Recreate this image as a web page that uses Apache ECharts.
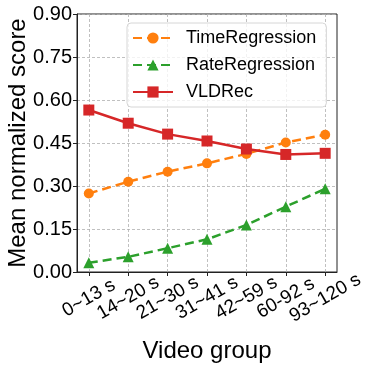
<!DOCTYPE html>
<html>
<head>
<meta charset="utf-8">
<script src="https://cdn.jsdelivr.net/npm/echarts@6/dist/echarts.min.js"></script>
<style>
  html, body { margin: 0; padding: 0; background: #fff; }
  #chart { width: 373px; height: 371px; }
</style>
</head>
<body>
<div id="chart"></div>
<script>
const groups = ['0~13 s', '14~20 s', '21~30 s', '31~41 s', '42~59 s', '60-92 s', '93~120 s']
const timeRegression = [0.274, 0.315, 0.350, 0.379, 0.412, 0.452, 0.479]
const rateRegression = [0.032, 0.053, 0.083, 0.114, 0.164, 0.228, 0.290]
const vldRec = [0.565, 0.519, 0.481, 0.457, 0.429, 0.410, 0.414]

const FONT = 'Liberation Sans, Arial, sans-serif'
const pts = arr => arr.map((v, i) => [i, v])

const chart = echarts.init(document.getElementById('chart'))
chart.setOption({
  animation: false,
  textStyle: { fontFamily: FONT, color: '#000' },
  grid: {
    left: 77, right: 36, top: 14, bottom: 99,
    outerBoundsMode: 'none',
    containLabel: false,
    show: true, borderColor: '#222', borderWidth: 1, backgroundColor: 'transparent',
  },
  legend: {
    orient: 'vertical',
    left: 127,
    top: 23,
    padding: [6, 10, 6, 5],
    itemGap: 9,
    itemWidth: 40,
    itemHeight: 14,
    backgroundColor: 'rgba(255,255,255,0.8)',
    borderColor: '#d6d6d6',
    borderWidth: 1,
    borderRadius: 4,
    textStyle: { fontFamily: FONT, fontSize: 18, color: '#000', padding: [0, 0, 0, 8] },
    data: ['TimeRegression', 'RateRegression', 'VLDRec'],
  },
  xAxis: {
    type: 'value',
    min: -0.3,
    max: 6.3,
    interval: 1,
    name: 'Video group',
    nameLocation: 'middle',
    nameGap: 67,
    nameTextStyle: { fontFamily: FONT, fontSize: 24, color: '#000' },
    axisLine: { show: true, onZero: false, lineStyle: { color: '#222' } },
    axisTick: { show: true, length: 4, lineStyle: { color: '#222' }, customValues: [0, 1, 2, 3, 4, 5, 6] },
    axisLabel: {
      rotate: 30,
      align: 'center',
      verticalAlign: 'middle',
      margin: 26,
      fontFamily: FONT,
      fontSize: 19,
      color: '#000',
      showMinLabel: true,
      showMaxLabel: true,
      hideOverlap: false,
      customValues: [0, 1, 2, 3, 4, 5, 6],
      formatter: v => (Number.isInteger(v) && groups[v]) ? groups[v] : '',
    },
    splitLine: { show: true, lineStyle: { color: '#b0b0b0', type: [3, 2], width: 0.8 } },
  },
  yAxis: {
    type: 'value',
    min: 0,
    max: 0.9,
    interval: 0.15,
    name: 'Mean normalized score',
    nameLocation: 'middle',
    nameGap: 47,
    nameMoveOverlap: false,
    nameTextStyle: { fontFamily: FONT, fontSize: 24, color: '#000' },
    axisLine: { show: true, onZero: false, lineStyle: { color: '#222' } },
    axisTick: { show: true, length: 4, lineStyle: { color: '#222' } },
    axisLabel: { fontFamily: FONT, fontSize: 20, color: '#000', margin: 5, formatter: v => v.toFixed(2) },
    splitLine: { show: true, lineStyle: { color: '#b0b0b0', type: [3, 2], width: 0.8 } },
  },
  series: [
    {
      name: 'TimeRegression',
      type: 'line',
      data: pts(timeRegression),
      color: '#ff7f0e',
      symbol: 'circle',
      symbolSize: 10,
      lineStyle: { width: 2.5, type: [9, 5] },
      itemStyle: { color: '#ff7f0e' },
      z: 3,
    },
    {
      name: 'RateRegression',
      type: 'line',
      data: pts(rateRegression),
      color: '#2ca02c',
      symbol: 'triangle',
      symbolSize: 11,
      lineStyle: { width: 2.5, type: [9, 5] },
      itemStyle: { color: '#2ca02c' },
      z: 3,
    },
    {
      name: 'VLDRec',
      type: 'line',
      data: pts(vldRec),
      color: '#d62728',
      symbol: 'rect',
      symbolSize: 11,
      lineStyle: { width: 2.5 },
      itemStyle: { color: '#d62728' },
      z: 4,
    },
  ],
})
</script>
</body>
</html>
